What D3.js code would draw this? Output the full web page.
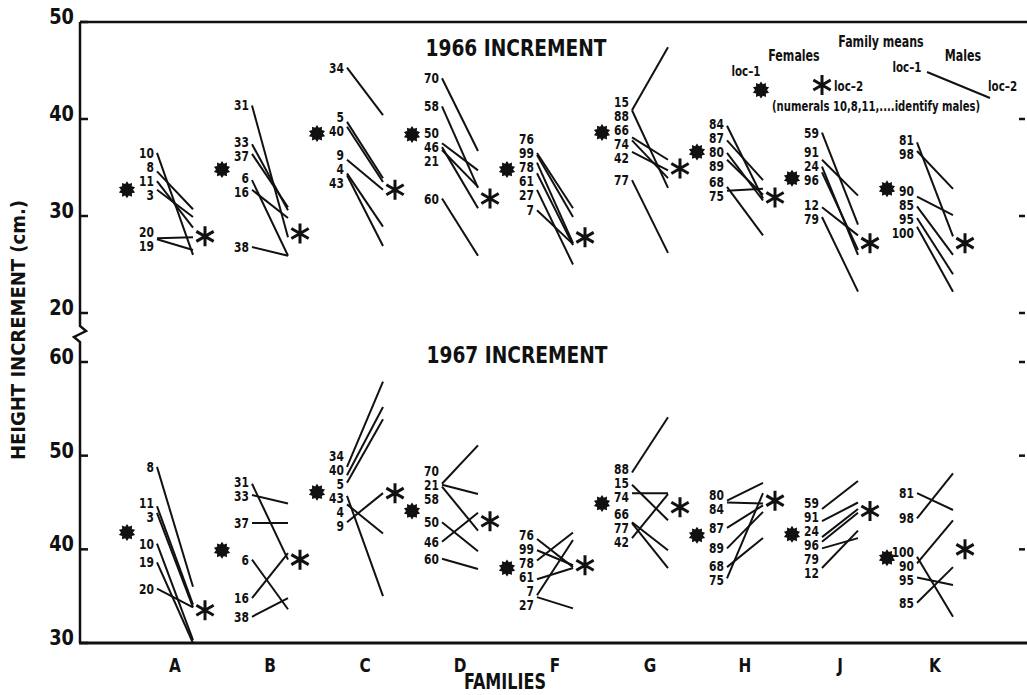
<!DOCTYPE html>
<html>
<head>
<meta charset="utf-8">
<script src="https://cdn.jsdelivr.net/npm/d3@7"></script>
<style>
  body { margin: 0; background: #fff; }
  text { font-family: "Liberation Sans Narrow", "DejaVu Sans Condensed", sans-serif; font-weight: bold; fill: #111; }
</style>
</head>
<body>
<svg id="chart" width="1027" height="695"></svg>
<script>
// families along the x axis
var families = ["A", "B", "C", "D", "F", "G", "H", "J", "K"];

// family means (females), loc-1 and loc-2
var mean66Loc1 = [32.7, 34.8, 38.5, 38.4, 34.8, 38.6, 36.6, 33.9, 32.8];
var mean66Loc2 = [27.9, 28.2, 32.7, 31.8, 27.8, 34.9, 31.9, 27.2, 27.2];
var mean67Loc1 = [41.8, 39.9, 46.1, 44.1, 38.0, 44.9, 41.5, 41.6, 39.1];
var mean67Loc2 = [33.5, 38.9, 46.0, 43.0, 38.3, 44.5, 45.2, 44.1, 40.0];

// males, 1966 increment
var male66Id = [
  [10, 8, 11, 3, 20, 19], [31, 33, 37, 6, 16, 38], [34, 5, 40, 9, 4, 43],
  [70, 58, 50, 46, 21, 60], [76, 99, 78, 61, 27, 7], [15, 88, 66, 74, 42, 77],
  [84, 87, 80, 89, 68, 75], [59, 91, 24, 96, 12, 79], [81, 98, 90, 85, 95, 100]
];
var male66Loc1 = [
  [36.5, 34.6, 33.6, 32.7, 27.7, 27.6], [41.4, 37.4, 36.4, 33.7, 32.7, 26.8], [45.3, 39.7, 39.2, 35.8, 34.4, 34.2],
  [44.2, 41.3, 37.5, 37.1, 36.8, 31.8], [36.5, 36.3, 35.5, 34.4, 32.7, 30.6], [40.9, 40.9, 38.1, 37.8, 36.6, 33.7],
  [39.3, 37.8, 36.5, 35.8, 33.0, 32.6], [38.6, 35.8, 35.1, 34.5, 30.9, 29.9], [37.6, 36.7, 32.0, 31.0, 29.8, 28.9]
];
var male66Loc2 = [
  [26.0, 30.7, 28.8, 29.9, 27.8, 26.5], [27.8, 30.6, 30.9, 25.9, 29.8, 25.9], [40.4, 33.9, 33.5, 32.7, 28.9, 26.9],
  [36.7, 32.9, 34.7, 30.8, 33.0, 25.9], [30.8, 29.9, 27.2, 27.0, 25.0, 27.1], [47.4, 32.9, 35.8, 33.9, 34.7, 26.2],
  [31.8, 33.7, 31.6, 32.2, 28.0, 32.8], [29.1, 32.1, 26.0, 26.5, 28.0, 22.2], [27.9, 32.8, 30.1, 26.0, 24.0, 22.2]
];

// males, 1967 increment
var male67Id = [
  [8, 11, 3, 10, 19, 20], [31, 33, 37, 6, 16, 38], [34, 40, 5, 43, 4, 9],
  [70, 21, 58, 50, 46, 60], [76, 99, 78, 61, 7, 27], [88, 15, 74, 66, 77, 42],
  [80, 84, 87, 89, 68, 75], [59, 91, 24, 96, 79, 12], [81, 98, 100, 90, 95, 85]
];
var male67Loc1 = [
  [48.8, 44.6, 43.9, 40.6, 38.6, 35.8], [47.0, 45.8, 42.8, 38.9, 34.8, 32.8], [48.8, 47.9, 47.1, 45.7, 44.8, 42.9],
  [47.0, 46.9, 46.7, 42.9, 40.8, 39.0], [41.1, 39.9, 38.8, 36.8, 35.1, 34.9], [48.2, 46.9, 46.0, 42.9, 42.8, 41.2],
  [45.2, 45.0, 42.3, 40.1, 38.1, 36.9], [44.3, 43.0, 41.3, 40.8, 40.1, 38.0], [46.0, 43.3, 39.2, 38.5, 37.0, 34.3]
];
var male67Loc2 = [
  [36.0, 34.1, 33.8, 30.3, 30.0, 33.8], [38.9, 44.9, 42.8, 33.6, 39.6, 34.8], [57.9, 55.2, 53.9, 35.0, 41.7, 46.0],
  [51.1, 45.9, 42.0, 39.8, 43.9, 37.9], [38.1, 38.3, 41.8, 38.0, 41.0, 33.7], [54.1, 43.1, 46.0, 39.9, 38.0, 45.9],
  [47.1, 44.9, 44.7, 44.0, 41.2, 46.0], [47.3, 45.0, 44.3, 43.9, 41.2, 42.0], [44.2, 48.1, 32.8, 43.1, 36.2, 38.1]
];

var ticks66 = [50, 40, 30, 20];
var ticks67 = [60, 50, 40, 30];

var svg = d3.select("#chart");
var axis_x = 80;
var right_x = 1027;

var x = d3.scalePoint().domain(families).range([175, 935]);
var y66 = d3.scaleLinear().domain([20, 50]).range([313, 22]);
var y67 = d3.scaleLinear().domain([30, 60]).range([643, 362]);

// narrow text: the original lettering is a condensed face
function txt(parent, tx, ty, str, size, anchor, sx)
{
  return parent.append("text")
    .attr("transform", "translate(" + tx + "," + ty + ") scale(" + (sx || 0.82) + ",1)")
    .attr("text-anchor", anchor || "start")
    .style("font-size", size + "px")
    .text(str);
}

// filled star (loc-1 mean) and open asterisk (loc-2 mean)
function star_path(r1, r2, n)
{
  let pts = [];
  for (let i = 0; i < n * 2; i++)
  {
    let a = Math.PI * i / n;
    let r = i % 2 == 0 ? r1 : r2;
    pts.push([r * Math.sin(a), -r * Math.cos(a)]);
  }
  return "M" + pts.join("L") + "Z";
}
function asterisk_path(r)
{
  let s = "";
  for (let k = 0; k < 3; k++)
  {
    let a = Math.PI / 2 + k * Math.PI / 3;
    let dx = r * Math.cos(a), dy = r * Math.sin(a);
    s += "M" + (-dx) + "," + (-dy) + "L" + dx + "," + dy;
  }
  return s;
}

// keep labels in listed order, push apart where they collide
function layout_labels(targets, gap)
{
  let p = targets.slice();
  for (let it = 0; it < 200; it++)
  {
    let moved = false;
    for (let i = 1; i < p.length; i++)
    {
      let d = p[i] - p[i - 1];
      if (d < gap - 0.01) { let s = (gap - d) / 2; p[i] += s; p[i - 1] -= s; moved = true; }
    }
    if (!moved) break;
  }
  return p;
}

function draw_panel(y, ids, loc1, loc2, m1, m2)
{
  let g = svg.append("g");
  families.forEach(function(f, i)
  {
    let cx = x(f);
    let males = ids[i].map(function(id, j) { return {id: id, a: loc1[i][j], b: loc2[i][j]}; });

    g.selectAll(".m" + f).data(males).enter()
      .append("line")
      .attr("x1", cx - 18).attr("y1", function(d) { return y(d.a); })
      .attr("x2", cx + 18).attr("y2", function(d) { return y(d.b); })
      .attr("stroke", "#111").attr("stroke-width", 2);

    let ly = layout_labels(males.map(function(d) { return y(d.a); }), 14);
    g.selectAll(".l" + f).data(males).enter()
      .append("text")
      .attr("transform", function(d, j) { return "translate(" + (cx - 21) + "," + (ly[j] + 5) + ") scale(0.82,1)"; })
      .attr("text-anchor", "end")
      .style("font-size", "14.5px")
      .text(function(d) { return d.id; });

    g.append("path").attr("d", star_path(8.5, 6, 10))
      .attr("transform", "translate(" + (cx - 48) + "," + y(m1[i]) + ")")
      .attr("fill", "#111");
    g.append("path").attr("d", asterisk_path(10))
      .attr("transform", "translate(" + (cx + 30) + "," + y(m2[i]) + ")")
      .attr("stroke", "#111").attr("stroke-width", 3).attr("fill", "none");
  });
}

draw_panel(y66, male66Id, male66Loc1, male66Loc2, mean66Loc1, mean66Loc2);
draw_panel(y67, male67Id, male67Loc1, male67Loc2, mean67Loc1, mean67Loc2);

// frame: top line, left axis with break, bottom axis
svg.append("line").attr("x1", axis_x).attr("x2", right_x).attr("y1", y66(50)).attr("y2", y66(50))
  .attr("stroke", "#111").attr("stroke-width", 2.5);
svg.append("line").attr("x1", axis_x - 1).attr("x2", right_x).attr("y1", y67(30)).attr("y2", y67(30))
  .attr("stroke", "#111").attr("stroke-width", 3);
svg.append("path")
  .attr("d", "M" + axis_x + "," + y66(50) + "V326L86,331L74,337L" + axis_x + ",342V" + y67(30))
  .attr("stroke", "#111").attr("stroke-width", 2.5).attr("fill", "none");

function draw_ticks(y, vals, right_vals)
{
  vals.forEach(function(v)
  {
    svg.append("line").attr("x1", axis_x).attr("x2", axis_x + 8).attr("y1", y(v)).attr("y2", y(v))
      .attr("stroke", "#111").attr("stroke-width", 2.5);
    txt(svg, axis_x - 6, y(v) + 2, v, 22, "end", 0.9);
  });
  right_vals.forEach(function(v)
  {
    svg.append("line").attr("x1", right_x - 8).attr("x2", right_x - 2).attr("y1", y(v)).attr("y2", y(v))
      .attr("stroke", "#111").attr("stroke-width", 2.5);
  });
}
draw_ticks(y66, ticks66, [40, 30, 20]);
draw_ticks(y67, ticks67, [60, 50, 40]);

// panel titles
txt(svg, 516, 56, "1966 INCREMENT", 23, "middle", 0.9);
txt(svg, 517, 363, "1967 INCREMENT", 23, "middle", 0.9);

// axis titles
families.forEach(function(f) { txt(svg, x(f), 672, f, 20, "middle", 0.85); });
txt(svg, 505, 689, "FAMILIES", 21, "middle", 0.85);
svg.append("text").attr("transform", "translate(25,330) rotate(-90)").attr("text-anchor", "middle")
  .style("font-size", "20px").text("HEIGHT INCREMENT (cm.)");

// legend
var lg = svg.append("g");
txt(lg, 881, 47, "Family means", 15, "middle");
txt(lg, 794, 61, "Females", 15, "middle");
txt(lg, 963, 61, "Males", 15, "middle");
txt(lg, 746, 76, "loc\u20131", 14, "middle");
lg.append("path").attr("d", star_path(8.5, 6, 10)).attr("transform", "translate(761,90)").attr("fill", "#111");
lg.append("path").attr("d", asterisk_path(10)).attr("transform", "translate(822,85)")
  .attr("stroke", "#111").attr("stroke-width", 3).attr("fill", "none");
txt(lg, 834, 91, "loc\u20132", 14);
txt(lg, 772, 111, "(numerals 10,8,11,....identify males)", 14, "start", 0.8);
txt(lg, 907, 72, "loc\u20131", 14, "middle");
lg.append("line").attr("x1", 927).attr("y1", 72).attr("x2", 990).attr("y2", 98).attr("stroke", "#111").attr("stroke-width", 2);
txt(lg, 988, 91, "loc\u20132", 14);
</script>
</body>
</html>
